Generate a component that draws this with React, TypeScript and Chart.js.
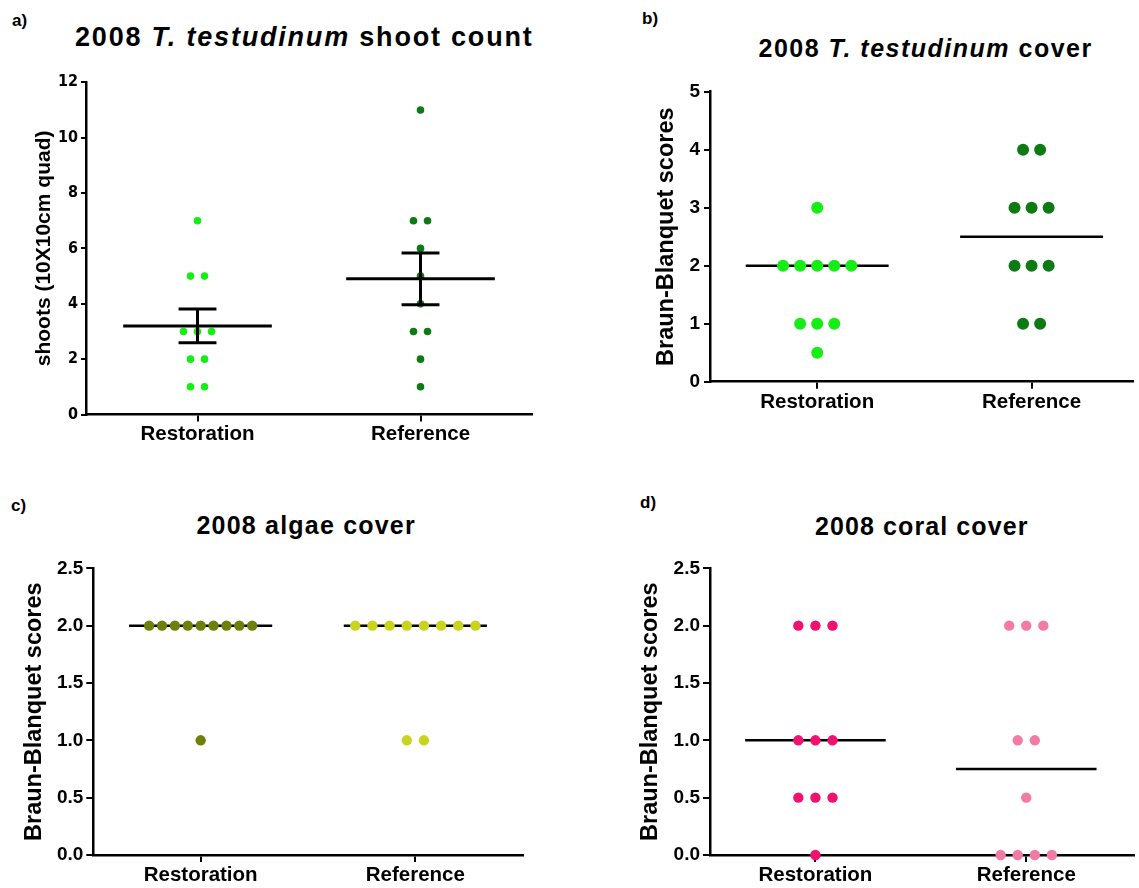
import React, { useEffect, useRef } from 'react';
import { Chart, registerables } from 'chart.js';

Chart.register(...registerables);

// ---------- data ----------
const CATEGORIES = ['Restoration', 'Reference'];

// a) 2008 T. testudinum shoot count (shoots per 10x10cm quad)
const SHOOTS_RESTORATION = [7, 5, 5, 3, 3, 3, 2, 2, 1, 1];
const SHOOTS_REFERENCE = [11, 7, 7, 6, 5, 4, 3, 3, 2, 1];
const SHOOT_TICKS = [0, 2, 4, 6, 8, 10, 12];

// b) 2008 T. testudinum cover (Braun-Blanquet)
const COVER_RESTORATION = [3, 2, 2, 2, 2, 2, 1, 1, 1, 0.5];
const COVER_REFERENCE = [4, 4, 3, 3, 3, 2, 2, 2, 1, 1];
const COVER_TICKS = [0, 1, 2, 3, 4, 5];

// c) 2008 algae cover
const ALGAE_RESTORATION = [2, 2, 2, 2, 2, 2, 2, 2, 2, 1];
const ALGAE_REFERENCE = [2, 2, 2, 2, 2, 2, 2, 2, 1, 1];

// d) 2008 coral cover
const CORAL_RESTORATION = [2, 2, 2, 1, 1, 1, 0.5, 0.5, 0.5, 0];
const CORAL_REFERENCE = [2, 2, 2, 1, 1, 0.5, 0, 0, 0, 0];

const SCORE_TICKS = [0, 0.5, 1, 1.5, 2, 2.5];

// ---------- helpers ----------
const FONT = '"Liberation Sans", Arial, Helvetica, sans-serif';

function swarm(values: number[], cat: number, spacing: number) {
  const counts = new Map<number, number>();
  values.forEach((v) => counts.set(v, (counts.get(v) || 0) + 1));
  const seen = new Map<number, number>();
  return values.map((v) => {
    const n = counts.get(v)!;
    const i = seen.get(v) || 0;
    seen.set(v, i + 1);
    return { x: cat + (i - (n - 1) / 2) * spacing, y: v };
  });
}
const mean = (a: number[]) => a.reduce((s, v) => s + v, 0) / a.length;
const sem = (a: number[]) => {
  const m = mean(a);
  const v = a.reduce((s, x) => s + (x - m) * (x - m), 0) / (a.length - 1);
  return Math.sqrt(v) / Math.sqrt(a.length);
};
const median = (a: number[]) => {
  const s = [...a].sort((p, q) => p - q);
  const k = s.length >> 1;
  return s.length % 2 ? s[k] : (s[k - 1] + s[k]) / 2;
};

function seg(x1: number, y1: number, x2: number, y2: number, w: number) {
  return {
    type: 'scatter',
    data: [{ x: x1, y: y1 }, { x: x2, y: y2 }],
    showLine: true,
    borderColor: '#000',
    borderWidth: w,
    borderCapStyle: 'butt',
    pointRadius: 0,
    clip: false,
  };
}

interface Group { values: number[]; color: string; spacing: number; radius: number }
interface PanelSpec {
  groups: Group[];
  stat: 'median' | 'meanSem';
  ticks: number[];
  decimals: number;
  xMax: number;
  yTitle: string;
  yTitleSize: number;
  tickFont: any;
  tickPad: number;
  yTickLen: number;
  lineWidth: number;
  linesOnTop: boolean;
  left: number; top: number; width: number; height: number;
  yw: number; xh: number; padTop: number; padRight: number;
}

function Panel({ spec }: { spec: PanelSpec }) {
  const ref = useRef<HTMLCanvasElement>(null);
  useEffect(() => {
    const canvas = ref.current!;
    const half = 1 / 3;
    const lines: any[] = [];
    spec.groups.forEach((g, i) => {
      if (spec.stat === 'median') {
        const m = median(g.values);
        lines.push(seg(i - half, m, i + half, m, spec.lineWidth));
      } else {
        const m = mean(g.values);
        const e = sem(g.values);
        const cap = 0.085;
        lines.push(seg(i - half, m, i + half, m, spec.lineWidth));
        lines.push(seg(i, m - e, i, m + e, spec.lineWidth));
        lines.push(seg(i - cap, m + e, i + cap, m + e, spec.lineWidth));
        lines.push(seg(i - cap, m - e, i + cap, m - e, spec.lineWidth));
      }
    });
    const dots = spec.groups.map((g, i) => ({
      type: 'scatter',
      data: swarm(g.values, i, g.spacing),
      backgroundColor: g.color,
      borderColor: g.color,
      borderWidth: 0,
      pointRadius: g.radius,
      pointHoverRadius: g.radius,
      clip: false,
    }));
    const datasets = spec.linesOnTop ? [...lines, ...dots] : [...dots, ...lines];

    const chart = new Chart(canvas, {
      type: 'scatter',
      data: { datasets } as any,
      options: {
        animation: false,
        responsive: false,
        events: [],
        layout: { padding: { top: spec.padTop, right: spec.padRight, left: 0, bottom: 0 } },
        plugins: { legend: { display: false }, tooltip: { enabled: false }, title: { display: false } },
        scales: {
          x: {
            type: 'linear',
            min: -0.5,
            max: spec.xMax,
            afterBuildTicks: (s: any) => { s.ticks = CATEGORIES.map((_, i) => ({ value: i })); },
            afterFit: (s: any) => { s.height = spec.xh; },
            ticks: {
              callback: (v: any) => CATEGORIES[Math.round(Number(v))],
              color: '#000',
              font: { family: FONT, size: 20.5, weight: 'bold' },
              padding: 1,
              maxRotation: 0,
              autoSkip: false,
            },
            grid: { display: true, drawOnChartArea: false, drawTicks: true, tickLength: 7, color: '#000', lineWidth: 2 },
            border: { display: true, color: '#000', width: 2.5 },
          },
          y: {
            type: 'linear',
            min: spec.ticks[0],
            max: spec.ticks[spec.ticks.length - 1],
            afterBuildTicks: (s: any) => { s.ticks = spec.ticks.map((v) => ({ value: v })); },
            afterFit: (s: any) => { s.width = spec.yw; },
            ticks: {
              callback: (v: any) => Number(v).toFixed(spec.decimals),
              color: '#000',
              font: spec.tickFont,
              padding: spec.tickPad,
              autoSkip: false,
            },
            grid: { display: true, drawOnChartArea: false, drawTicks: true, tickLength: spec.yTickLen, color: '#000', lineWidth: 2 },
            border: { display: true, color: '#000', width: 2.5 },
            title: {
              display: true,
              text: spec.yTitle,
              color: '#000',
              font: { family: FONT, size: spec.yTitleSize, weight: 'bold' },
              padding: { top: 0, bottom: 0 },
            },
          },
        },
      } as any,
    });
    return () => chart.destroy();
  }, [spec]);
  return (
    <canvas
      ref={ref}
      width={spec.width}
      height={spec.height}
      style={{ position: 'absolute', left: spec.left, top: spec.top, width: spec.width, height: spec.height }}
    />
  );
}

// ---------- panel layouts ----------
const LIME = '#14ee14';
const DARK_GREEN = '#0d7a14';

const PANEL_A: PanelSpec = {
  groups: [
    { values: SHOOTS_RESTORATION, color: LIME, spacing: 0.063, radius: 3.8 },
    { values: SHOOTS_REFERENCE, color: DARK_GREEN, spacing: 0.063, radius: 3.8 },
  ],
  stat: 'meanSem', ticks: SHOOT_TICKS, decimals: 0, xMax: 1.5,
  yTitle: 'shoots (10X10cm quad)', yTitleSize: 21,
  tickFont: { family: '"Liberation Sans Narrow", "DejaVu Sans Condensed", Arial, sans-serif', size: 16, weight: 'bold' },
  tickPad: 3, yTickLen: 5, lineWidth: 3, linesOnTop: true,
  left: 32, top: 66, width: 508, height: 389, yw: 54, xh: 40.5, padTop: 16.3, padRight: 8,
};

const PANEL_B: PanelSpec = {
  groups: [
    { values: COVER_RESTORATION, color: LIME, spacing: 0.0796, radius: 6 },
    { values: COVER_REFERENCE, color: DARK_GREEN, spacing: 0.0796, radius: 6 },
  ],
  stat: 'median', ticks: COVER_TICKS, decimals: 0, xMax: 1.473,
  yTitle: 'Braun-Blanquet scores', yTitleSize: 23.5,
  tickFont: { family: FONT, size: 19, weight: 'bold' },
  tickPad: 4, yTickLen: 6, lineWidth: 2.5, linesOnTop: false,
  left: 652, top: 76, width: 487, height: 346, yw: 58, xh: 40.3, padTop: 15.7, padRight: 0,
};

const PANEL_C: PanelSpec = {
  groups: [
    { values: ALGAE_RESTORATION, color: '#6f7f0c', spacing: 0.06, radius: 5.2 },
    { values: ALGAE_REFERENCE, color: '#c9d41f', spacing: 0.08, radius: 5.2 },
  ],
  stat: 'median', ticks: SCORE_TICKS, decimals: 1, xMax: 1.5,
  yTitle: 'Braun-Blanquet scores', yTitleSize: 23.5,
  tickFont: { family: FONT, size: 19, weight: 'bold' },
  tickPad: 3, yTickLen: 7, lineWidth: 2.5, linesOnTop: false,
  left: 20, top: 552, width: 511, height: 336, yw: 73.3, xh: 33, padTop: 16.3, padRight: 8.3,
};

const PANEL_D: PanelSpec = {
  groups: [
    { values: CORAL_RESTORATION, color: '#ef136f', spacing: 0.081, radius: 5.2 },
    { values: CORAL_REFERENCE, color: '#f27ba3', spacing: 0.081, radius: 5.2 },
  ],
  stat: 'median', ticks: SCORE_TICKS, decimals: 1, xMax: 1.51,
  yTitle: 'Braun-Blanquet scores', yTitleSize: 23.5,
  tickFont: { family: FONT, size: 19, weight: 'bold' },
  tickPad: 3, yTickLen: 7, lineWidth: 2.5, linesOnTop: false,
  left: 636, top: 552, width: 503, height: 336, yw: 74, xh: 33, padTop: 16.3, padRight: 0,
};

function Text({ left, top, size, spacing = 0, children }: any) {
  return (
    <div
      style={{
        position: 'absolute', left, top, fontFamily: FONT, fontWeight: 'bold', fontSize: size,
        lineHeight: 1.2, letterSpacing: spacing, whiteSpace: 'nowrap', color: '#000',
      }}
    >
      {children}
    </div>
  );
}

export default function App() {
  return (
    <div style={{ position: 'absolute', left: 0, top: 0, width: 1139, height: 888, overflow: 'hidden', background: '#fff' }}>
      <Text left={12} top={11} size={17}>a)</Text>
      <Text left={75} top={20.8} size={27} spacing={1.8}>2008 <i>T. testudinum</i> shoot count</Text>
      <Text left={642} top={8.5} size={17}>b)</Text>
      <Text left={758.5} top={32.8} size={25} spacing={1.5}>2008 <i>T. testudinum</i> cover</Text>
      <Text left={11} top={496} size={17}>c)</Text>
      <Text left={196.5} top={510.3} size={25} spacing={1.2}>2008 algae cover</Text>
      <Text left={640} top={493} size={17}>d)</Text>
      <Text left={815} top={511.1} size={25} spacing={1.1}>2008 coral cover</Text>
      <Panel spec={PANEL_A} />
      <Panel spec={PANEL_B} />
      <Panel spec={PANEL_C} />
      <Panel spec={PANEL_D} />
    </div>
  );
}
